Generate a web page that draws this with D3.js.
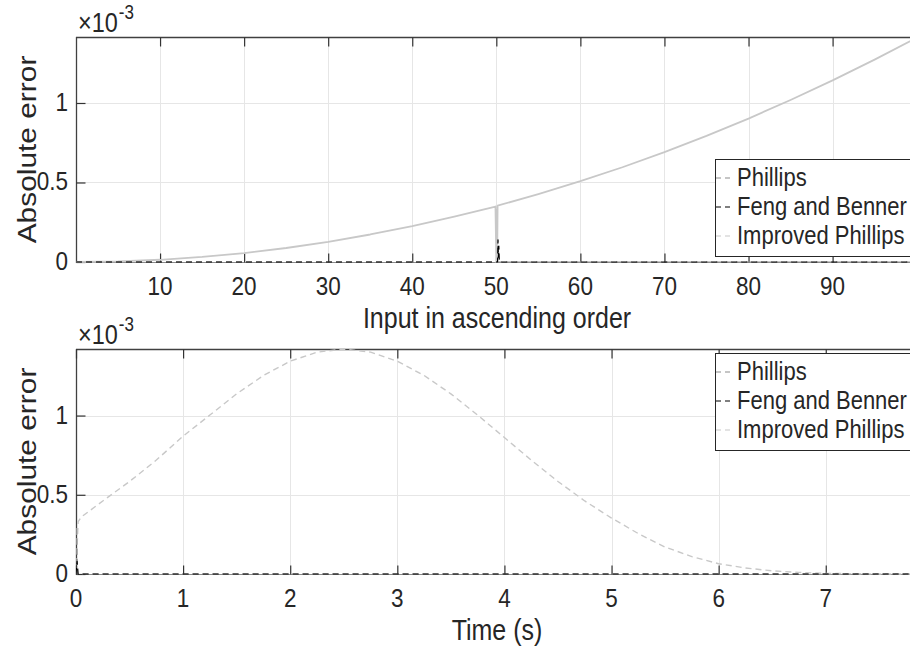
<!DOCTYPE html>
<html>
<head>
<meta charset="utf-8">
<script src="https://cdn.jsdelivr.net/npm/d3@7"></script>
<style>
html,body{margin:0;padding:0;background:#fff;}
svg{display:block;}
text{font-family:"Liberation Sans",Arial,Helvetica,sans-serif;fill:#262626;}
</style>
</head>
<body>
<svg id="chart" width="910" height="653"></svg>
<script>
// ---------------- DATA ----------------
const seriesNames = ["Phillips", "Feng and Benner", "Improved Phillips"];

// Top panel: input in ascending order (x) vs absolute error (×10^-3)
const topXTicks = [10, 20, 30, 40, 50, 60, 70, 80, 90];
const topYTicks = [0, 0.5, 1];
const topYTickLabels = ["0", "0.5", "1"];

const topImprovedX = [0, 5, 10, 15, 20, 25, 30, 35, 40, 45, 49.9, 50.0, 50.05, 50.1, 50.15, 55, 60, 65, 70, 75, 80, 85, 90, 95, 100];
const topImprovedY = [0, 0.0035, 0.014, 0.032, 0.056, 0.088, 0.127, 0.173, 0.226, 0.286, 0.349, 0.0, 0.33, 0.0, 0.354, 0.427, 0.508, 0.596, 0.691, 0.793, 0.902, 1.019, 1.142, 1.273, 1.41];

const topFengX = [0, 50.15, 50.2, 50.25, 50.3, 50.35, 50.4, 100];
const topFengY = [0, 0, 0.14, 0.03, 0.1, 0.02, 0, 0];

const topPhillipsX = [0, 100];
const topPhillipsY = [0, 0];

// Bottom panel: time (s) vs absolute error (×10^-3)
const botXTicks = [0, 1, 2, 3, 4, 5, 6, 7];
const botYTicks = [0, 0.5, 1];
const botYTickLabels = ["0", "0.5", "1"];

const botImprovedT = [0, 0.02, 0.05, 0.25, 0.5, 0.75, 1.0, 1.25, 1.5, 1.75, 2.0, 2.25, 2.5, 2.75, 3.0, 3.25, 3.5, 3.75, 4.0, 4.25, 4.5, 4.75, 5.0, 5.25, 5.5, 5.75, 6.0, 6.25, 6.5, 6.75, 7.0, 7.5, 7.9];
const botImprovedY = [0, 0.33, 0.36, 0.461, 0.584, 0.719, 0.87, 1.003, 1.137, 1.253, 1.343, 1.400, 1.42, 1.400, 1.343, 1.253, 1.137, 1.003, 0.861, 0.719, 0.584, 0.461, 0.353, 0.255, 0.17, 0.11, 0.065, 0.038, 0.02, 0.01, 0.004, 0.0, 0.0];

const botPhillipsT = [0, 0.005, 0.012, 7.9];
const botPhillipsY = [0, 0.3, 0, 0];

const botFengT = [0, 0.01, 0.02, 7.9];
const botFengY = [0, 0.08, 0, 0];

// ---------------- DRAWING ----------------
const svg = d3.select("#chart");
const VS = 1.15; // vertical text stretch
const plotLeft = 76, plotRight = 920;
const colors = {"Phillips": "#8c8c8c", "Feng and Benner": "#000000", "Improved Phillips": "#c8c8c8"};

function stretchedText(g, x, y, str, size, anchor) {
  return g.append("text")
    .attr("transform", `translate(${x},${y}) scale(1,${VS})`)
    .attr("text-anchor", anchor || "start")
    .style("font-size", size + "px")
    .text(str);
}

function drawPanel(cfg, idx) {
  const g = svg.append("g");
  const x = d3.scaleLinear().domain(cfg.xDomain).range([plotLeft, plotRight]);
  const y = d3.scaleLinear().domain(cfg.yDomain).range([cfg.bottom, cfg.top]);

  const clipId = "clip" + idx;
  svg.append("clipPath").attr("id", clipId).append("rect")
    .attr("x", plotLeft).attr("y", cfg.top - 2)
    .attr("width", plotRight - plotLeft).attr("height", cfg.bottom - cfg.top + 4);

  // grid
  const grid = g.append("g").attr("stroke", "#e6e6e6").attr("stroke-width", 1);
  grid.selectAll("line.vx").data(cfg.xTicks.filter(d => d > cfg.xDomain[0])).enter().append("line")
    .attr("x1", d => Math.round(x(d)) + 0.5).attr("x2", d => Math.round(x(d)) + 0.5)
    .attr("y1", cfg.top).attr("y2", cfg.bottom);
  grid.selectAll("line.hy").data(cfg.yTicks.filter(d => d > 0)).enter().append("line")
    .attr("y1", d => Math.round(y(d)) + 0.5).attr("y2", d => Math.round(y(d)) + 0.5)
    .attr("x1", plotLeft).attr("x2", plotRight);

  // axes (box)
  const axisColor = "#404040";
  g.append("line").attr("x1", plotLeft).attr("x2", plotRight).attr("y1", cfg.top + 0.5).attr("y2", cfg.top + 0.5)
    .attr("stroke", axisColor).attr("stroke-width", 1.3);
  g.append("line").attr("x1", plotLeft).attr("x2", plotRight).attr("y1", cfg.bottom + 0.5).attr("y2", cfg.bottom + 0.5)
    .attr("stroke", "#8a8a8a").attr("stroke-width", 1.2);
  g.append("line").attr("x1", plotLeft + 0.5).attr("x2", plotLeft + 0.5).attr("y1", cfg.top).attr("y2", cfg.bottom + 1)
    .attr("stroke", axisColor).attr("stroke-width", 1.3);

  // ticks using d3 axes (inner ticks, no labels)
  const axB = d3.axisBottom(x).tickValues(cfg.xTicks).tickSize(-9).tickFormat("");
  const axT = d3.axisTop(x).tickValues(cfg.xTicks).tickSize(-9).tickFormat("");
  const axL = d3.axisLeft(y).tickValues(cfg.yTicks).tickSize(-9).tickFormat("");
  [[axB, cfg.bottom], [axT, cfg.top]].forEach(([ax, yy]) => {
    const a = g.append("g").attr("transform", `translate(0,${yy + 0.5})`).call(ax);
    a.select(".domain").remove();
    a.selectAll(".tick line").attr("stroke", "#333").attr("stroke-width", 1.2);
  });
  const al = g.append("g").attr("transform", `translate(${plotLeft + 0.5},0)`).call(axL);
  al.select(".domain").remove();
  al.selectAll(".tick line").attr("stroke", "#333").attr("stroke-width", 1.2);

  // tick labels
  cfg.xTicks.forEach(t => stretchedText(g, x(t), cfg.bottom + 33, String(t), 22.5, "middle"));
  cfg.yTicks.forEach((t, i) => stretchedText(g, 68, y(t) + 8, cfg.yTickLabels[i], 22.5, "end"));

  // exponent
  const ex = stretchedText(g, 78, cfg.top - 5, "×10", 23.5, "start");
  const exW = ex.node().getComputedTextLength();
  stretchedText(g, 78 + exW + 1, cfg.top - 18, "-3", 17, "start");

  // axis labels
  stretchedText(g, 497, cfg.bottom + 66, cfg.xLabel, 25, "middle");
  g.append("text")
    .attr("transform", `translate(36,${(cfg.top + cfg.bottom) / 2}) scale(1,${VS}) rotate(-90)`)
    .attr("text-anchor", "middle").style("font-size", "26px").text("Absolute error");

  // data lines
  const line = d3.line().x(d => x(d[0])).y(d => y(d[1]));
  const dg = g.append("g").attr("clip-path", `url(#${clipId})`);
  cfg.series.forEach(s => {
    const pts = s.x.map((v, i) => [v, s.y[i]]);
    dg.append("path").datum(pts).attr("d", line)
      .attr("fill", "none").attr("stroke", colors[s.name])
      .attr("stroke-width", s.width || 1.2)
      .attr("stroke-dasharray", s.dash || null)
      .attr("stroke-linejoin", "round");
  });

  // legend
  const lg = g.append("g");
  lg.append("rect").attr("x", 715.5).attr("y", cfg.legendTop + 0.5).attr("width", 230).attr("height", 97)
    .attr("fill", "#fff").attr("stroke", "#262626").attr("stroke-width", 1);
  seriesNames.forEach((n, i) => {
    const ry = cfg.legendTop + 19 + i * 29;
    lg.append("line").attr("x1", 716).attr("x2", 732).attr("y1", ry).attr("y2", ry)
      .attr("stroke", colors[n]).attr("stroke-width", 1.2).attr("stroke-dasharray", "5,4");
    stretchedText(lg, 737, ry + 8, n, 22, "start");
  });
}

drawPanel({
  top: 37, bottom: 262, xDomain: [0, 100.4], yDomain: [0, 1.415],
  xTicks: topXTicks, yTicks: topYTicks, yTickLabels: topYTickLabels,
  xLabel: "Input in ascending order", legendTop: 159,
  series: [
    {name: "Improved Phillips", x: topImprovedX, y: topImprovedY, width: 1.8},
    {name: "Phillips", x: topPhillipsX, y: topPhillipsY, dash: "6,4"},
    {name: "Feng and Benner", x: topFengX, y: topFengY, dash: "6,4"}
  ]
}, 0);

drawPanel({
  top: 349, bottom: 574, xDomain: [0, 7.88], yDomain: [0, 1.42],
  xTicks: botXTicks, yTicks: botYTicks, yTickLabels: botYTickLabels,
  xLabel: "Time (s)", legendTop: 353,
  series: [
    {name: "Improved Phillips", x: botImprovedT, y: botImprovedY, dash: "6,4", width: 1.4},
    {name: "Phillips", x: botPhillipsT, y: botPhillipsY, dash: "6,4"},
    {name: "Feng and Benner", x: botFengT, y: botFengY, dash: "6,4"}
  ]
}, 1);
</script>
</body>
</html>
